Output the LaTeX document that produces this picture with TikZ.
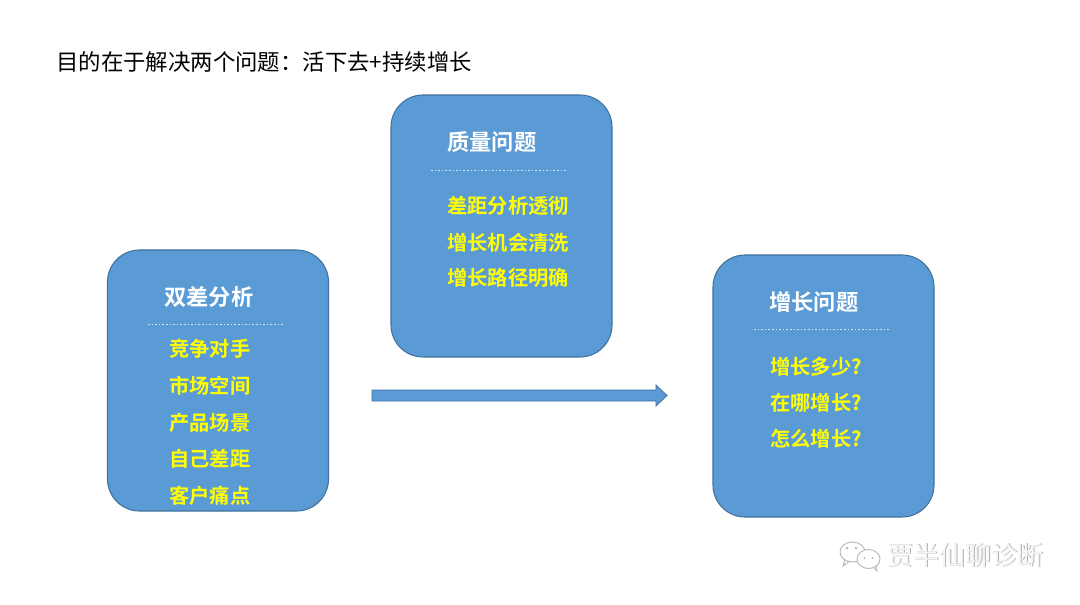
\documentclass[tikz,border=0pt]{standalone}
\usepackage{fontspec}
\newfontfamily\cjk{Noto Sans CJK SC}
\newfontfamily\cjkb{Noto Sans CJK SC Bold}
\begin{document}
\begin{tikzpicture}[x=0.75pt,y=-0.75pt]
\definecolor{boxblue}{HTML}{5B9BD5}
\definecolor{boxline}{HTML}{41719C}
\definecolor{itemyellow}{HTML}{FFFF00}
\definecolor{sepline}{HTML}{D4E2F2}
\tikzset{
  panel/.style={draw=boxline, fill=boxblue, line width=0.8pt, rounded corners=24pt, inner sep=0pt},
  paneltitle/.style={anchor=base west, inner sep=0pt, text=white, font=\cjkb\fontsize{16.7pt}{18pt}\selectfont},
  panelitem/.style={anchor=base west, inner sep=0pt, text=itemyellow, font=\cjkb\fontsize{15.2pt}{17pt}\selectfont},
  sepdash/.style={draw=sepline, line width=0.45pt, dash pattern=on 1.2pt off 1.5pt},
  headline/.style={anchor=base west, inner sep=0pt, text=black, font=\cjk\fontsize{16.8pt}{18pt}\selectfont},
  wmark/.style={anchor=base west, inner sep=0pt, font=\cjk\fontsize{19.5pt}{21pt}\selectfont},
}
\useasboundingbox[fill=white] (0,0) rectangle (1080,605);

% headline
\node[headline] (head) at (56,70.5) {目的在于解决两个问题：活下去+持续增长};

% left panel
\node[panel, minimum width=221*0.75pt, minimum height=261*0.75pt] (left) at (218,380.5) {};
\node[paneltitle] (ltitle) at (164,305.5) {双差分析};
\coordinate (lsA) at (148,324);
\coordinate (lsB) at (283,324);
\draw[sepdash] (lsA) -- (lsB);
\node[panelitem] (l1) at (169,356.5) {竞争对手};
\node[panelitem] (l2) at (169,393.5) {市场空间};
\node[panelitem] (l3) at (169,430.5) {产品场景};
\node[panelitem] (l4) at (169,466.5) {自己差距};
\node[panelitem] (l5) at (169,503.5) {客户痛点};

% middle panel
\node[panel, minimum width=221*0.75pt, minimum height=262*0.75pt] (mid) at (501.5,226) {};
\node[paneltitle] (mtitle) at (447,150.5) {质量问题};
\coordinate (msA) at (431,170);
\coordinate (msB) at (567,170);
\draw[sepdash] (msA) -- (msB);
\node[panelitem] (m1) at (447,213.5) {差距分析透彻};
\node[panelitem] (m2) at (447,250.5) {增长机会清洗};
\node[panelitem] (m3) at (447,285.5) {增长路径明确};

% right panel
\node[panel, minimum width=221*0.75pt, minimum height=262*0.75pt] (right) at (823.5,386) {};
\node[paneltitle] (rtitle) at (769,310.5) {增长问题};
\coordinate (rsA) at (754,329);
\coordinate (rsB) at (889,329);
\draw[sepdash] (rsA) -- (rsB);
\node[panelitem] (r1) at (770,374.5) {增长多少?};
\node[panelitem] (r2) at (770,410.5) {在哪增长?};
\node[panelitem] (r3) at (770,446.5) {怎么增长?};

% block arrow
\draw[draw=boxline, fill=boxblue, line width=0.6pt]
  (372,390) -- (656,390) -- (656,385) -- (667,395.5) -- (656,406) -- (656,401) -- (372,401) -- cycle;

% watermark
\begin{scope}[draw=gray!55, line width=0.7pt, fill=white]
  \draw (852.5,552) ellipse [x radius=12.5, y radius=10];
  \draw (845,560) -- (843,566) -- (850,561);
  \fill[gray!55] (847,548) circle (1.3);
  \fill[gray!55] (856,548) circle (1.3);
  \filldraw (868.5,559) ellipse [x radius=11.5, y radius=9.5];
  \draw (873,567) -- (877,571) -- (876,566);
  \fill[gray!55] (864.5,558) circle (1.2);
  \fill[gray!55] (872.5,558) circle (1.2);
\end{scope}
\node[wmark, text=gray!60] (wm0) at (887.8,565.8) {贾半仙聊诊断};
\node[wmark, text=white!96!black] (wm) at (887,565) {贾半仙聊诊断};
\end{tikzpicture}
\end{document}
